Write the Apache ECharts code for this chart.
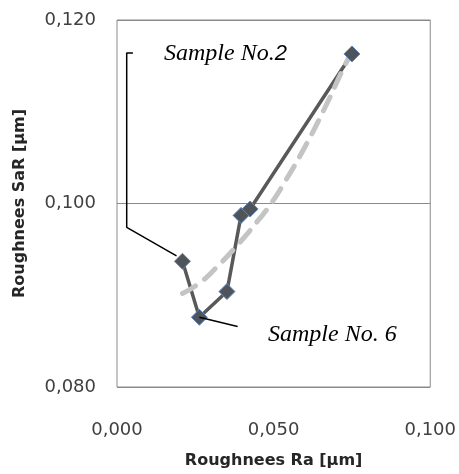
<!DOCTYPE html>
<html>
<head>
<meta charset="utf-8">
<script src="https://cdn.jsdelivr.net/npm/echarts@6/dist/echarts.min.js"></script>
<style>html,body{margin:0;padding:0;background:#fff}#c{width:459px;height:474px}</style>
</head>
<body>
<div id="c"></div>
<script>
// Measured samples (Ra, SaR) in µm
const raValues  = [0.0209, 0.0263, 0.0351, 0.0396, 0.0425, 0.0750];
const sarValues = [0.0937, 0.0876, 0.0904, 0.0987, 0.0994, 0.1163];
// Trend line
const trendRa  = [0.0209, 0.0258, 0.0311, 0.0401, 0.0449, 0.0486, 0.0533, 0.0602, 0.0666, 0.0718, 0.0750];
const trendSaR = [0.0902, 0.0912, 0.0928, 0.0961, 0.0981, 0.0997, 0.1022, 0.1063, 0.1106, 0.1144, 0.1166];
// Callout leader lines (data coordinates)
const callout2Ra  = [0.0051, 0.0031, 0.0031, 0.0190];
const callout2SaR = [0.1164, 0.1164, 0.0974, 0.0943];
const callout6Ra  = [0.0263, 0.0385];
const callout6SaR = [0.0876, 0.0866];
const xTicks = [0, 0.05, 0.1];
const yTicks = [0.08, 0.10, 0.12];

const zip = (a, b) => a.map((v, i) => [v, b[i]]);
const fmt = v => v.toFixed(3).replace('.', ',');

const chart = echarts.init(document.getElementById('c'));
chart.setOption({
  animation: false,
  grid: { left: 117, right: 27, top: 20, bottom: 81, show: true, borderColor: '#8a8a8a', borderWidth: 1, containLabel: false },
  xAxis: {
    type: 'value', min: xTicks[0], max: xTicks[2], interval: 0.05,
    axisLine: { show: false }, axisTick: { show: false }, splitLine: { show: false },
    axisLabel: { formatter: fmt, margin: 34, color: '#404040', fontFamily: 'DejaVu Sans', fontSize: 18 },
    name: 'Roughnees Ra [µm]', nameLocation: 'middle', nameGap: 66,
    nameTextStyle: { fontFamily: 'DejaVu Sans', fontWeight: 'bold', fontSize: 16, color: '#262626' }
  },
  yAxis: {
    type: 'value', min: yTicks[0], max: yTicks[2], interval: 0.02,
    axisLine: { show: false }, axisTick: { show: false },
    splitLine: { show: true, lineStyle: { color: '#8a8a8a', width: 1 } },
    axisLabel: { formatter: fmt, margin: 21, color: '#404040', fontFamily: 'DejaVu Sans', fontSize: 18 },
    name: 'Roughnees SaR [µm]', nameLocation: 'middle', nameGap: 89, nameRotate: 90,
    nameTextStyle: { fontFamily: 'DejaVu Sans', fontWeight: 'bold', fontSize: 16, color: '#262626' }
  },
  series: [
    { type: 'line', data: zip(raValues, sarValues), showSymbol: false, symbol: 'none', z: 2,
      lineStyle: { color: '#595959', width: 3.5 } },
    { type: 'line', data: zip(trendRa, trendSaR), smooth: true, symbol: 'none', z: 3,
      lineStyle: { color: '#c4c4c4', width: 5, type: [15, 11], cap: 'round' } },
    { type: 'scatter', data: zip(raValues, sarValues), symbol: 'diamond', symbolSize: 16, z: 4,
      itemStyle: { color: '#4f535a', borderColor: '#5b86bf', borderWidth: 1, opacity: 1 } },
    { type: 'line', data: zip(callout2Ra, callout2SaR), symbol: 'none', z: 5,
      lineStyle: { color: '#000', width: 1.5 } },
    { type: 'line', data: zip(callout6Ra, callout6SaR), symbol: 'none', z: 5,
      lineStyle: { color: '#000', width: 1.5 } }
  ],
  graphic: [
    { type: 'text', left: 164, top: 42, z: 10, style: {
      text: '{a|Sample No.}{b|2}',
      rich: {
        a: { fontFamily: 'Liberation Serif', fontStyle: 'italic', fontSize: 24, fill: '#000' },
        b: { fontFamily: 'Liberation Sans', fontStyle: 'italic', fontSize: 22, fill: '#000' }
      } } },
    { type: 'text', left: 268, top: 323, z: 10, style: {
      text: 'Sample No. 6', fontFamily: 'Liberation Serif', fontStyle: 'italic', fontSize: 24, fill: '#000' } }
  ]
});
</script>
</body>
</html>
